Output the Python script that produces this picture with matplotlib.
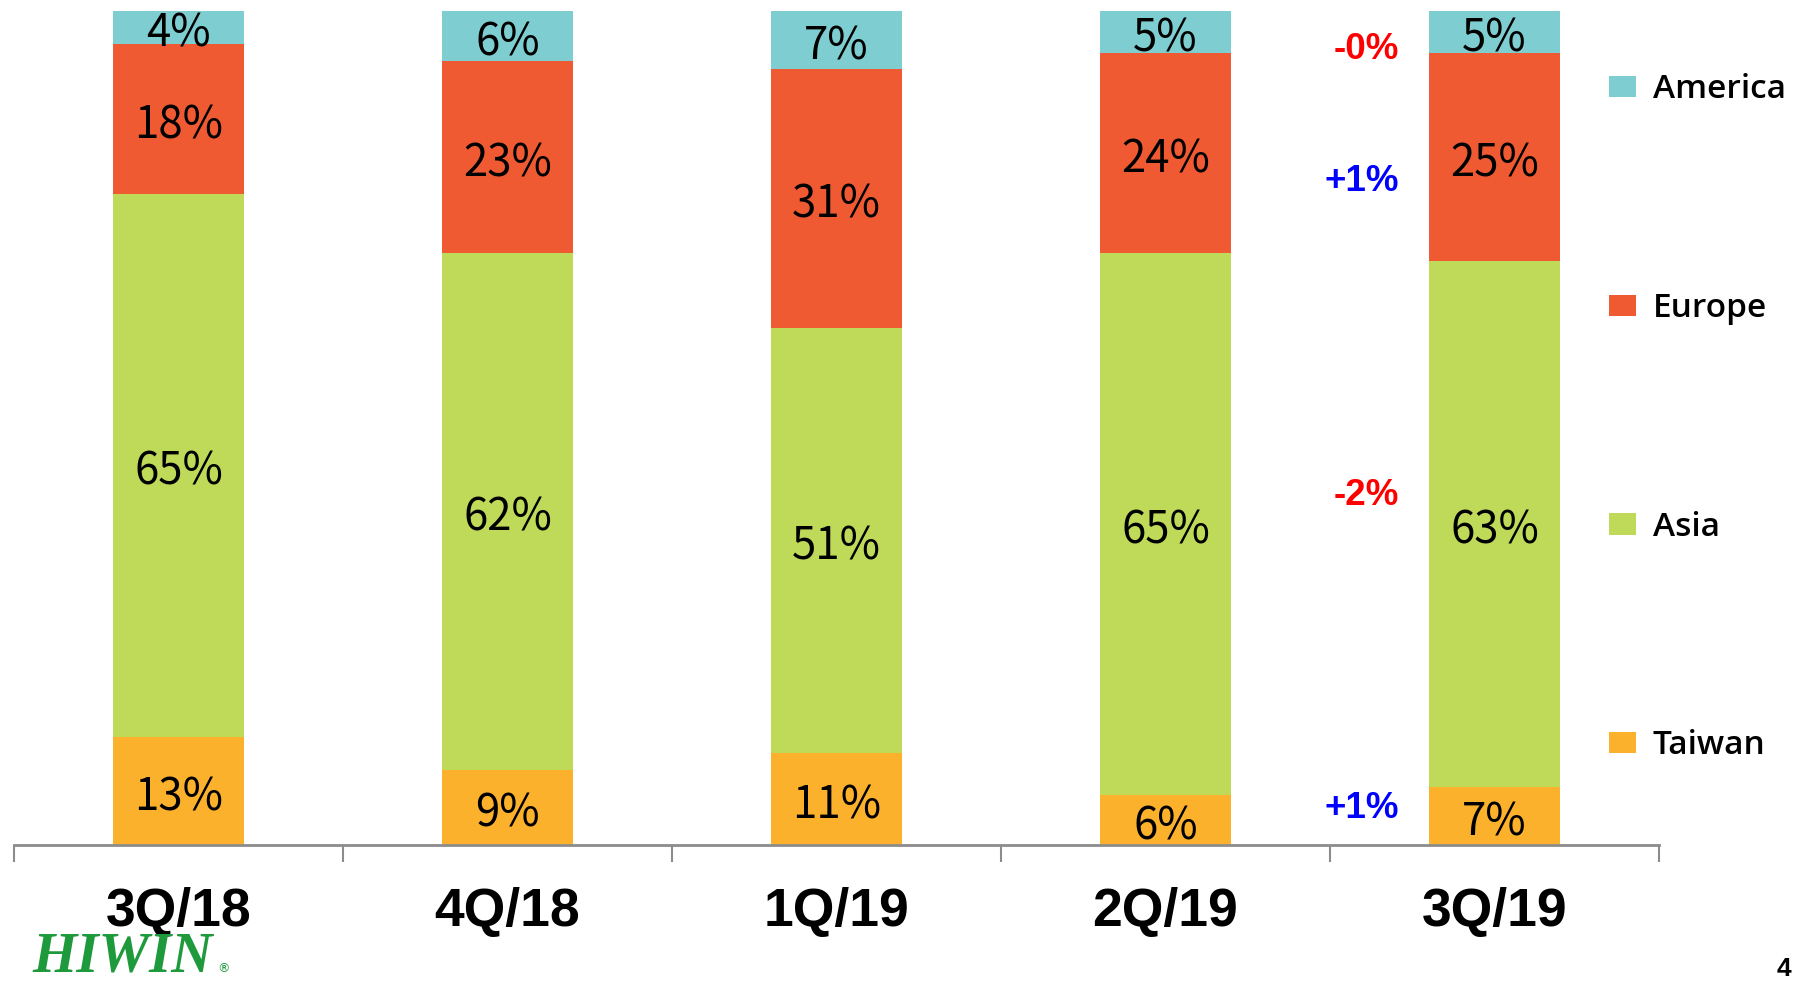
import matplotlib
matplotlib.use("Agg")
import matplotlib.pyplot as plt
import numpy as np

categories = ["3Q/18", "4Q/18", "1Q/19", "2Q/19", "3Q/19"]
taiwan = [13, 9, 11, 6, 7]
asia = [65, 62, 51, 65, 63]
europe = [18, 23, 31, 24, 25]
america = [4, 6, 7, 5, 5]
series_names = ["Taiwan", "Asia", "Europe", "America"]
series_colors = ["#FBB12C", "#BFD958", "#EF5A32", "#7ECED1"]

change_labels = ["+1%", "-2%", "+1%", "-0%"]
change_colors = ["#0000FF", "#FF0000", "#0000FF", "#FF0000"]
change_y = [4.4, 41.9, 79.6, 95.4]  # vertical placement of the change notes (axis %)

fig = plt.figure(figsize=(17.96, 9.83), dpi=100)
ax = fig.add_axes([14 / 1796, 1 - 845 / 983, (1659 - 14) / 1796, (845 - 11) / 983])

x = np.arange(len(categories))
values = [taiwan, asia, europe, america]
bottom = np.zeros(len(categories))
handles = []
label_font = ["Noto Sans CJK TC", "DejaVu Sans"]
for name, vals, col in zip(series_names, values, series_colors):
    vals = np.array(vals, dtype=float)
    bars = ax.bar(x, vals, width=0.40, bottom=bottom, color=col, label=name,
                  edgecolor="none")
    handles.append(bars)
    for xi, b, v in zip(x, bottom, vals):
        ax.annotate(f"{int(v)}%", (xi, b + v / 2), xytext=(0, -4.5),
                    textcoords="offset points", ha="center", va="center",
                    fontsize=31.5, family=label_font, color="black")
    bottom += vals

last = len(categories) - 1
for yv, lab, col in zip(change_y, change_labels, change_colors):
    ax.text(last - 0.29, yv, lab, ha="right", va="center",
            fontsize=26.5, fontweight="bold", family="Liberation Sans", color=col)

ax.set_xlim(-0.5, len(categories) - 0.5)
ax.set_ylim(0, 100)
ax.set_yticks([])
for s in ["top", "right", "left"]:
    ax.spines[s].set_visible(False)
ax.spines["bottom"].set_color("#8C8C8C")
ax.spines["bottom"].set_linewidth(2)

ax.set_xticks(x)
ax.set_xticklabels(categories, fontsize=38.5, fontweight="bold", family="Liberation Sans")
ax.tick_params(axis="x", which="major", length=0, pad=30)
ax.set_xticks(np.arange(-0.5, len(categories)), minor=True)
ax.tick_params(axis="x", which="minor", length=12, width=1.5, color="#8C8C8C")

leg = fig.legend(handles[::-1], series_names[::-1], loc="upper left",
                 bbox_to_anchor=(1596 / 1796, 1 - 60 / 983), frameon=False,
                 prop={"family": ["Open Sans", "DejaVu Sans"], "size": 24, "weight": "semibold"},
                 handlelength=0.8, handleheight=0.6, handletextpad=0.5,
                 labelspacing=5.57, borderaxespad=0)

fig.text(32 / 1796, 1 - 971 / 983, "HIWIN", ha="left", va="baseline", fontsize=41,
         fontweight="bold", fontstyle="italic", family="Liberation Serif", color="#1E9A3C")
fig.text(217 / 1796, 1 - 972 / 983, "®", ha="left", va="baseline", fontsize=9,
         family="DejaVu Sans", color="#1E9A3C")
fig.text(1784 / 1796, 1 - 969 / 983, "4", ha="center", va="center", fontsize=19,
         fontweight="bold", family="Liberation Sans", color="black")

fig.savefig("out.png", dpi=100)
